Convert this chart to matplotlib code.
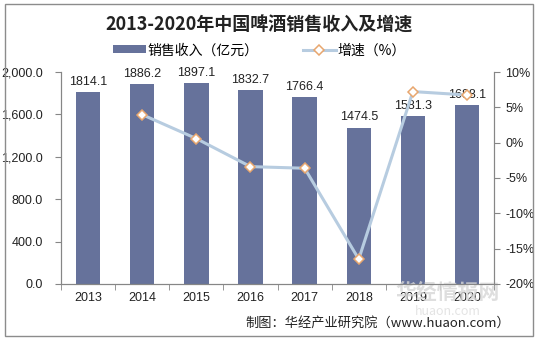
import matplotlib.pyplot as plt
from matplotlib.patches import Rectangle
import numpy as np

plt.rcParams['font.family'] = ['Noto Sans CJK SC', 'DejaVu Sans']

years = ['2013', '2014', '2015', '2016', '2017', '2018', '2019', '2020']
revenue = [1814.1, 1886.2, 1897.1, 1832.7, 1766.4, 1474.5, 1581.3, 1688.1]
growth_years = ['2014', '2015', '2016', '2017', '2018', '2019', '2020']
growth = [3.97, 0.58, -3.39, -3.62, -16.5, 7.24, 6.75]

bar_color = '#66729b'
line_color = '#b7cce0'
axis_color = '#868686'
num_font = ['Liberation Sans', 'DejaVu Sans']

fig = plt.figure(figsize=(5.4, 3.4), dpi=100)
ax1 = fig.add_axes([0.113, 0.165, 0.802, 0.623])
ax2 = ax1.twinx()

x = np.arange(len(years))
ax1.bar(x, revenue, width=0.45, color=bar_color, label='销售收入（亿元）', zorder=2)
for xi, v in zip(x, revenue):
    ax1.text(xi, v + 40, f'{v:.1f}', ha='center', va='bottom', fontsize=9,
             color='#222222', family=num_font)

gx = [years.index(y) for y in growth_years]
ax2.plot(gx, growth, color=line_color, linewidth=2.2, marker='D', markersize=5.5,
         markerfacecolor='white', markeredgecolor='#e8a66e', markeredgewidth=1.1,
         label='增速（%）', zorder=3)

ax1.set_xlim(-0.5, len(years) - 0.5)
ax1.set_ylim(0, 2000)
ax1.set_yticks(np.arange(0, 2001, 400))
ax1.set_yticklabels([f'{v:,.1f}' for v in np.arange(0, 2001, 400)])
ax1.set_xticks(x)
ax1.set_xticklabels(years)
ax1.set_xticks(np.arange(-0.5, len(years), 1), minor=True)
ax1.tick_params(axis='x', which='major', length=0, pad=6)
ax1.tick_params(axis='x', which='minor', length=4, color=axis_color)
ax1.tick_params(axis='y', length=4, color=axis_color, pad=9)
ax1.tick_params(labelsize=9)

ax2.set_ylim(-20, 10)
ax2.set_yticks(np.arange(-20, 11, 5))
ax2.set_yticklabels([f'{v}%' for v in range(-20, 11, 5)])
ax2.tick_params(axis='y', length=4, color=axis_color, labelsize=9, pad=4)

for ax in (ax1, ax2):
    ax.spines['top'].set_visible(False)
    for s in ('left', 'right', 'bottom'):
        ax.spines[s].set_color(axis_color)
        ax.spines[s].set_linewidth(0.8)
    for lbl in ax.get_xticklabels() + ax.get_yticklabels():
        lbl.set_family(num_font)
        lbl.set_color('#222222')

ax2.set_zorder(ax1.get_zorder() + 1)
ax2.patch.set_visible(False)

fig.text(0.48, 0.925, '2013-2020年中国啤酒销售收入及增速', ha='center', va='center',
         fontsize=13, fontweight='bold', color='#222222')

h1, l1 = ax1.get_legend_handles_labels()
h2, l2 = ax2.get_legend_handles_labels()
fig.legend(h1 + h2, l1 + l2, loc='center', bbox_to_anchor=(0.48, 0.852), ncol=2,
           frameon=False, fontsize=10, handlelength=2.4, handleheight=0.5,
           columnspacing=3.2, handletextpad=0.1)

# watermark
fig.text(0.925, 0.14, '华经情报网', ha='right', va='center', fontsize=15,
         fontweight='bold', color='#d6d6d6', alpha=0.8, zorder=0)
fig.text(0.89, 0.085, 'huaon.com', ha='right', va='center', fontsize=9,
         color='#e4e4e4', zorder=0)

fig.text(0.945, 0.05, '制图：华经产业研究院（www.huaon.com）', ha='right', va='center',
         fontsize=9.5, color='#222222')

fig.patches.append(Rectangle((0.009, 0.013), 0.978, 0.975, transform=fig.transFigure,
                             fill=False, edgecolor='#8c8c8c', linewidth=1.0))

fig.savefig('out.png', dpi=100)
